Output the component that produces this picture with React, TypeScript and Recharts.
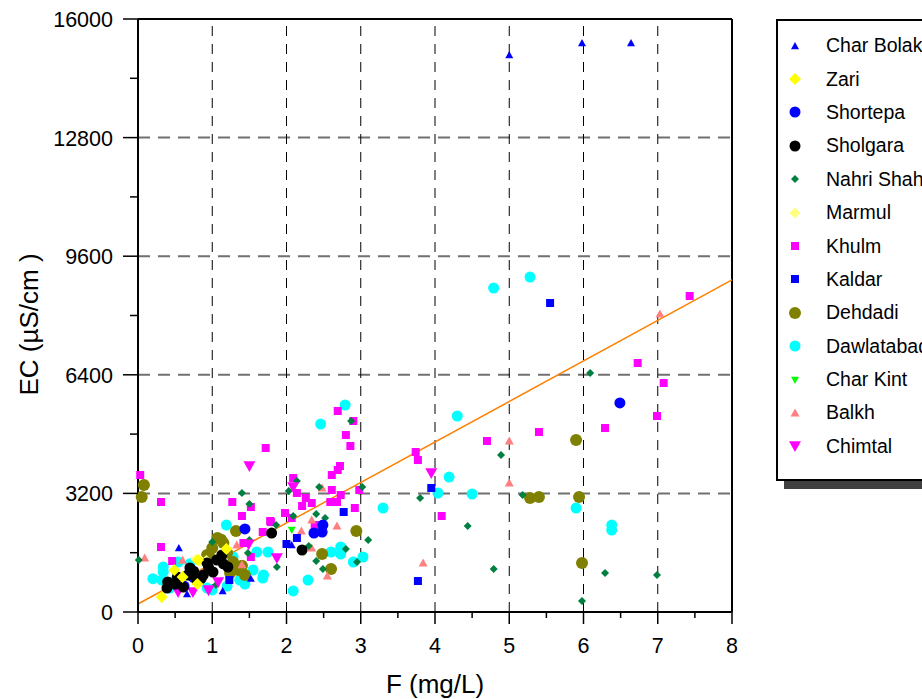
import React from "react"
import { ScatterChart, Scatter, XAxis, YAxis, ReferenceLine, Legend } from "recharts"

const FONT = "'Liberation Sans', Arial, sans-serif"

// axis ticks
const xTicks = [0, 0.5, 1, 1.5, 2, 2.5, 3, 3.5, 4, 4.5, 5, 5.5, 6, 6.5, 7, 7.5, 8]
const xGrid = [1, 2, 3, 4, 5, 6, 7]
const yTicks = [0, 1600, 3200, 4800, 6400, 8000, 9600, 11200, 12800, 14400, 16000]
const yGrid = [3200, 6400, 9600, 12800]

// regression line  EC = a + b * F
const trendIntercept = 216
const trendSlope = 1093

// [F (mg/L), EC (uS/cm)]
const charBolak = [
  [5.0, 15030], [5.98, 15350], [6.64, 15350], [0.55, 1727], [1.14, 567],
  [0.66, 486], [1.52, 900], [2.07, 1808],
]
const zari = [
  [1.19, 1700], [0.49, 1133], [0.6, 944], [0.8, 755], [0.81, 1403], [0.32, 405],
]
const shortepa = [
  [1.44, 2240], [0.62, 700], [0.74, 944], [2.49, 2347], [2.48, 2158], [2.37, 2131], [6.49, 5640],
]
const sholgara = [
  [1.8, 2131], [2.21, 1673], [1.13, 1538], [1.21, 1214], [0.7, 1187], [0.4, 810],
  [0.39, 647], [0.61, 674], [0.88, 998], [1.01, 1079], [0.79, 863], [0.93, 1322],
  [0.53, 944], [1.06, 1403], [0.67, 998], [0.5, 750], [0.75, 1100], [1.15, 1300],
  [0.95, 1200], [0.85, 900],
]
const nahriShahi = [
  [6.09, 6449], [4.89, 4236], [3.8, 3076], [5.18, 3157], [4.44, 2320], [4.79, 1160],
  [6.29, 1052], [6.99, 998], [5.98, 297], [2.14, 3534], [2.03, 3265], [2.44, 3373],
  [3.02, 3373], [2.09, 2590], [2.4, 2644], [2.52, 2536], [3.1, 1943], [2.8, 1700],
  [2.3, 1781], [2.4, 1376], [2.49, 1160], [2.95, 1349], [1.87, 1214], [1.86, 2347],
  [2.87, 5153], [1.4, 3211], [1.5, 2914], [1.5, 1943], [1.48, 1592], [1.0, 1889],
  [0.01, 1403], [1.05, 728],
]
const marmul = [
  [0.85, 1376], [0.92, 1390], [0.78, 1420],
]
const khulm = [
  [7.43, 8526], [6.73, 6718], [7.08, 6178], [6.99, 5288], [6.29, 4964], [5.4, 4856],
  [4.7, 4614], [3.74, 4317], [3.77, 4101], [4.09, 2590], [2.69, 5423], [2.8, 4775],
  [2.86, 4479], [2.9, 5153], [2.72, 3939], [2.69, 3831], [2.61, 3696], [1.72, 4425],
  [2.09, 3615], [2.14, 3211], [2.61, 3292], [2.26, 3076], [2.21, 2860], [1.98, 2671],
  [2.07, 2536], [2.34, 2941], [2.59, 2968], [2.68, 2968], [2.92, 2806], [1.79, 2428],
  [2.38, 2347], [1.68, 2158], [1.27, 2968], [1.4, 2590], [1.78, 2455], [0.03, 3696],
  [0.31, 2968], [0.31, 1754], [0.46, 1376], [1.52, 2833], [2.73, 3157], [2.98, 3292],
  [1.42, 1862], [1.52, 1484],
]
const kaldar = [
  [5.55, 8337], [3.95, 3346], [3.77, 836], [2.77, 2698], [2.14, 1997], [2.0, 1835], [1.23, 863],
]
const dehdadi = [
  [5.9, 4640], [5.28, 3076], [5.4, 3103], [5.94, 3103], [5.98, 1322], [0.08, 3427],
  [0.05, 3103], [2.94, 2185], [2.48, 1565], [2.6, 1160], [1.32, 2185], [1.07, 1997],
  [1.15, 1862], [0.93, 1538], [1.0, 1727], [1.35, 1133], [1.44, 998], [1.24, 1052],
  [1.12, 1950], [1.2, 1600], [0.98, 1450], [1.28, 1350], [1.4, 1250],
]
const dawlatabad = [
  [4.79, 8742], [5.28, 9038], [4.3, 5288], [4.19, 3642], [4.04, 3211], [4.5, 3184],
  [3.3, 2806], [5.9, 2806], [6.38, 2347], [6.38, 2212], [2.79, 5585], [2.46, 5072],
  [2.29, 863], [2.09, 567], [1.69, 998], [1.75, 1619], [2.6, 1619], [2.73, 1754],
  [2.73, 1565], [2.9, 1349], [3.03, 1484], [1.19, 2347], [1.6, 1619], [0.34, 1214],
  [0.32, 863], [0.54, 1349], [1.55, 1133], [1.68, 917], [1.37, 863], [1.44, 755],
  [0.93, 647], [0.43, 647], [0.34, 1079], [0.46, 810], [1.28, 1484], [1.0, 594],
  [0.2, 900], [0.7, 1300], [1.2, 700],
]
const charKint = [
  [2.07, 2212], [0.32, 350],
]
const balkh = [
  [7.03, 8040], [5.0, 4614], [5.0, 3480], [3.84, 1322], [2.48, 3346], [2.2, 2185],
  [2.68, 2320], [2.34, 2482], [2.55, 971], [0.09, 1457], [2.34, 1727], [1.33, 1808],
  [1.4, 1280], [0.6, 1400],
]
const chimtal = [
  [1.5, 3939], [2.09, 3373], [3.95, 3750], [1.87, 1457], [0.54, 540], [0.74, 540],
  [0.95, 590], [1.08, 810], [1.49, 1830],
]

type Kind = "circle" | "square" | "diamond" | "triUp" | "triDown"

function marker(kind: Kind, size: number, color: string, cx: number, cy: number) {
  const h = size / 2
  if (kind === "circle") return <circle cx={cx} cy={cy} r={h} fill={color} />
  if (kind === "square")
    return <rect x={cx - h} y={cy - h} width={size} height={size} fill={color} />
  if (kind === "diamond")
    return <polygon points={`${cx},${cy - h} ${cx + h},${cy} ${cx},${cy + h} ${cx - h},${cy}`} fill={color} />
  if (kind === "triUp")
    return <polygon points={`${cx},${cy - h} ${cx + h},${cy + h * 0.8} ${cx - h},${cy + h * 0.8}`} fill={color} />
  return <polygon points={`${cx},${cy + h} ${cx + h},${cy - h * 0.8} ${cx - h},${cy - h * 0.8}`} fill={color} />
}

const series: { name: string; pts: number[][]; kind: Kind; size: number; color: string }[] = [
  { name: "Char Bolak", pts: charBolak, kind: "triUp", size: 8, color: "#0000ff" },
  { name: "Zari", pts: zari, kind: "diamond", size: 12, color: "#ffff00" },
  { name: "Shortepa", pts: shortepa, kind: "circle", size: 11, color: "#0000ff" },
  { name: "Sholgara", pts: sholgara, kind: "circle", size: 11, color: "#000000" },
  { name: "Nahri Shahi", pts: nahriShahi, kind: "diamond", size: 8, color: "#008040" },
  { name: "Marmul", pts: marmul, kind: "diamond", size: 11, color: "#ffff80" },
  { name: "Khulm", pts: khulm, kind: "square", size: 8, color: "#ff00ff" },
  { name: "Kaldar", pts: kaldar, kind: "square", size: 8, color: "#0000ff" },
  { name: "Dehdadi", pts: dehdadi, kind: "circle", size: 12, color: "#808000" },
  { name: "Dawlatabad", pts: dawlatabad, kind: "circle", size: 11, color: "#00ffff" },
  { name: "Char Kint", pts: charKint, kind: "triDown", size: 8, color: "#00ff00" },
  { name: "Balkh", pts: balkh, kind: "triUp", size: 9, color: "#ff8080" },
  { name: "Chimtal", pts: chimtal, kind: "triDown", size: 12, color: "#ff00ff" },
]

// drawing order, bottom first
const drawOrder = [
  "Dawlatabad", "Khulm", "Dehdadi", "Balkh", "Nahri Shahi", "Chimtal", "Kaldar",
  "Char Kint", "Marmul", "Shortepa", "Sholgara", "Zari", "Char Bolak",
]

const XTick = (props: any) => {
  const { x, y, payload } = props
  const major = Number.isInteger(payload.value)
  return (
    <g>
      <line x1={x} y1={y} x2={x} y2={y + (major ? 12 : 6)} stroke="#000" strokeWidth={1.5} />
      {major && (
        <text x={x} y={y + 41} textAnchor="middle" fontSize={21.5} fontFamily={FONT} fill="#000">
          {payload.value}
        </text>
      )}
    </g>
  )
}

const YTick = (props: any) => {
  const { x, y, payload } = props
  const major = payload.value % 3200 === 0
  return (
    <g>
      <line x1={x - (major ? 15 : 8)} y1={y} x2={x} y2={y} stroke="#000" strokeWidth={1.5} />
      {major && (
        <text x={x - 25} y={y + 8} textAnchor="end" fontSize={21.5} fontFamily={FONT} fill="#000">
          {payload.value}
        </text>
      )}
    </g>
  )
}

const LegendBox = () => (
  <div
    style={{
      width: 180,
      height: 462,
      boxSizing: "border-box",
      border: "2px solid #000",
      background: "#fff",
      boxShadow: "8px 8px 0 #404040",
      paddingTop: 8,
      fontFamily: FONT,
    }}
  >
    {series.map((s) => (
      <div key={s.name} style={{ display: "flex", alignItems: "center", height: 33.4 }}>
        <svg width={48} height={20} style={{ flex: "none" }}>
          {marker(s.kind, s.size, s.color, 17, 10)}
        </svg>
        <span style={{ fontSize: 19.5, color: "#000", whiteSpace: "nowrap" }}>{s.name}</span>
      </div>
    ))}
  </div>
)

export default function App() {
  const byName = Object.fromEntries(series.map((s) => [s.name, s]))
  return (
    <div style={{ position: "absolute", left: 0, top: 0, width: 922, height: 699, overflow: "hidden", background: "#fff" }}>
      <ScatterChart width={922} height={699} margin={{ top: 19, right: 190, bottom: 0, left: 0 }}>
        <XAxis
          type="number"
          dataKey="f"
          domain={[0, 8]}
          ticks={xTicks}
          interval={0}
          height={87}
          tickSize={0}
          tickMargin={0}
          tickLine={false}
          tick={<XTick />}
          axisLine={{ stroke: "#000", strokeWidth: 2 }}
          label={{
            content: (p: any) => (
              <text
                x={p.viewBox.x + p.viewBox.width / 2}
                y={p.viewBox.y + 81}
                textAnchor="middle"
                fontSize={26}
                fontFamily={FONT}
                fill="#000"
              >
                F (mg/L)
              </text>
            ),
          }}
        />
        <YAxis
          type="number"
          dataKey="ec"
          domain={[0, 16000]}
          ticks={yTicks}
          interval={0}
          width={138}
          tickSize={0}
          tickMargin={0}
          tickLine={false}
          tick={<YTick />}
          axisLine={{ stroke: "#000", strokeWidth: 2 }}
          label={{
            content: (p: any) => {
              const cx = p.viewBox.x + 29
              const cy = p.viewBox.y + p.viewBox.height / 2 + 9
              return (
                <text
                  x={cx}
                  y={cy}
                  transform={`rotate(-90 ${cx} ${cy})`}
                  textAnchor="middle"
                  dominantBaseline="central"
                  fontSize={26}
                  fontFamily={FONT}
                  fill="#000"
                >
                  EC (µS/cm )
                </text>
              )
            },
          }}
        />
        {yGrid.map((v) => (
          <ReferenceLine key={"h" + v} y={v} stroke="#707070" strokeWidth={2} strokeDasharray="12 8" />
        ))}
        {xGrid.map((v) => (
          <ReferenceLine key={"v" + v} x={v} stroke="#000" strokeWidth={1} strokeDasharray="10 8" />
        ))}
        <ReferenceLine y={16000} stroke="#000" strokeWidth={2} />
        <ReferenceLine x={8} stroke="#000" strokeWidth={2} />
        {drawOrder.map((n) => {
          const s = byName[n]
          return (
            <Scatter
              key={n}
              name={n}
              data={s.pts.map(([f, ec]) => ({ f, ec }))}
              isAnimationActive={false}
              shape={(p: any) => marker(s.kind, s.size, s.color, p.cx, p.cy)}
            />
          )
        })}
        <ReferenceLine
          segment={[
            { x: 0, y: trendIntercept },
            { x: 8, y: trendIntercept + trendSlope * 8 },
          ]}
          stroke="#ff8000"
          strokeWidth={1.5}
        />
        <Legend
          layout="vertical"
          align="center"
          verticalAlign="middle"
          wrapperStyle={{ left: 776, top: 19, width: 190, height: 475 }}
          content={() => <LegendBox />}
        />
      </ScatterChart>
    </div>
  )
}
